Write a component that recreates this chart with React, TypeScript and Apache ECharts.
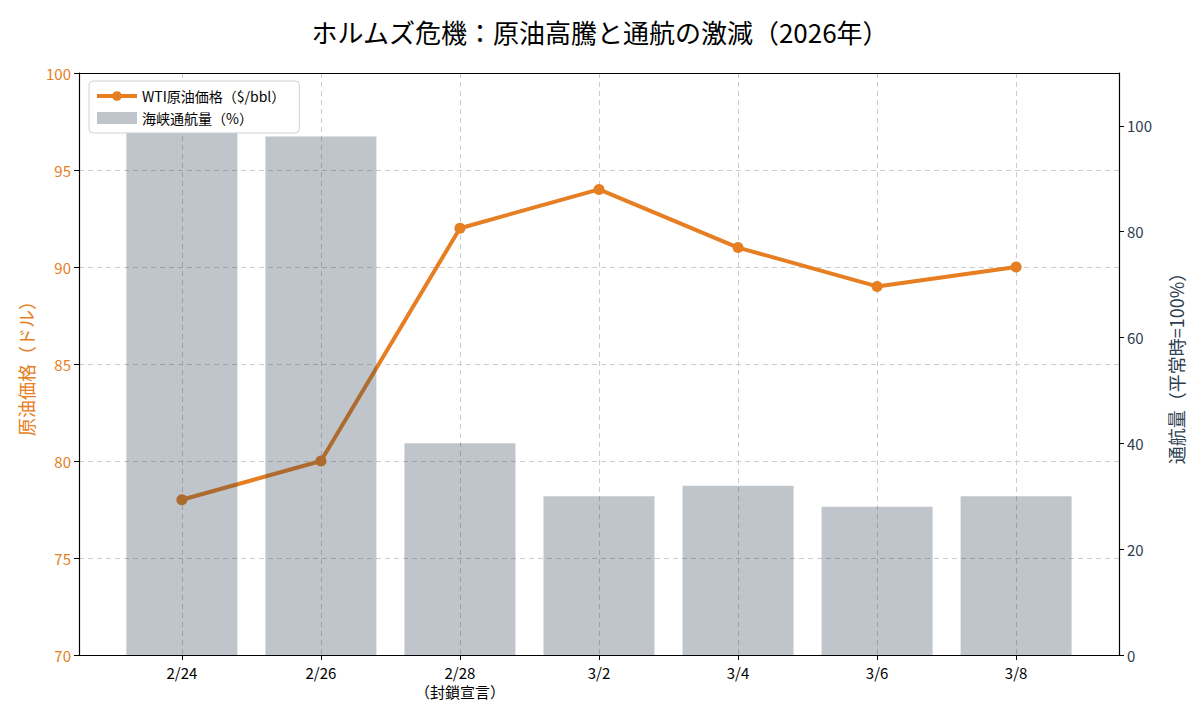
import React, { useEffect, useRef } from "react";
import * as echarts from "echarts";

const categories = ["2/24", "2/26", "2/28\n（封鎖宣言）", "3/2", "3/4", "3/6", "3/8"];
const oilPrice = [78, 80, 92, 94, 91, 89, 90];
const traffic = [100, 98, 40, 30, 32, 28, 30];
const rightTicks = [0, 20, 40, 60, 80, 100];

const FONT = "'Noto Sans CJK JP', 'Noto Sans', sans-serif";
const ORANGE = "#e67e22";
const SLATE = "#2c3e50";

export default function App() {
  const ref = useRef<HTMLDivElement>(null);
  useEffect(() => {
    document.body.style.margin = "0";
    if (!ref.current) return;
    const chart = echarts.init(ref.current, undefined, { renderer: "svg" });
    const idx = categories.map((_, i) => i);
    chart.setOption({
      animation: false,
      backgroundColor: "#fff",
      textStyle: { fontFamily: FONT },
      title: {
        text: "ホルムズ危機：原油高騰と通航の激減（2026年）",
        left: "center",
        top: 13,
        textStyle: { fontFamily: FONT, fontSize: 26, fontWeight: "normal", color: "#000" },
      },
      legend: {
        orient: "vertical",
        left: 89,
        top: 81,
        padding: [8, 14, 8, 6],
        itemGap: 8,
        backgroundColor: "#fff",
        borderColor: "#d0d0d0",
        borderWidth: 1,
        borderRadius: 4,
        itemWidth: 40,
        itemHeight: 12,
        textStyle: { fontFamily: FONT, fontSize: 14, color: "#000" },
        data: [
          { name: "WTI原油価格（$/bbl）", lineStyle: { width: 4 } },
          { name: "海峡通航量（%）", icon: "rect" },
        ],
      },
      grid: { left: 79, right: 81, top: 73, bottom: 65 },
      xAxis: [
        {
          type: "value",
          min: -0.74,
          max: 6.74,
          axisLine: { show: true, onZero: false, lineStyle: { color: "#000", width: 1.2 } },
          axisTick: { show: true, length: 5, customValues: idx, lineStyle: { color: "#000" } },
          axisLabel: {
            customValues: idx,
            formatter: (v: number) => categories[Math.round(v)] ?? "",
            color: "#000",
            fontSize: 15,
            fontFamily: FONT,
            margin: 8,
            lineHeight: 19,
          },
          splitLine: { show: true, lineStyle: { color: "#cccccc", type: [5, 4], width: 1 } },
        },
        {
          type: "value",
          position: "top",
          min: -0.74,
          max: 6.74,
          axisLine: { show: true, onZero: false, lineStyle: { color: "#000", width: 1.2 } },
          axisTick: { show: false },
          axisLabel: { show: false },
          splitLine: { show: false },
        },
      ],
      yAxis: [
        {
          type: "value",
          min: 70,
          max: 100,
          interval: 5,
          name: "原油価格（ドル）",
          nameLocation: "middle",
          nameRotate: 90,
          nameGap: 44,
          nameTextStyle: { color: ORANGE, fontSize: 18, fontFamily: FONT },
          axisLine: { show: true, onZero: false, lineStyle: { color: "#000", width: 1.2 } },
          axisTick: { show: true, length: 5, lineStyle: { color: "#000" } },
          axisLabel: { color: ORANGE, fontSize: 15, fontFamily: FONT, margin: 8 },
          splitLine: { show: true, lineStyle: { color: "#cccccc", type: [5, 4], width: 1 } },
        },
        {
          type: "value",
          min: 0,
          max: 110,
          position: "right",
          name: "通航量（平常時=100%）",
          nameLocation: "middle",
          nameRotate: 90,
          nameGap: 48,
          nameTextStyle: { color: SLATE, fontSize: 18, fontFamily: FONT },
          axisLine: { show: true, onZero: false, lineStyle: { color: "#000", width: 1.2 } },
          axisTick: { show: true, length: 5, customValues: rightTicks, lineStyle: { color: "#000" } },
          axisLabel: { customValues: rightTicks, color: SLATE, fontSize: 15, fontFamily: FONT, margin: 8 },
          splitLine: { show: false },
        },
      ],
      series: [
        {
          name: "WTI原油価格（$/bbl）",
          type: "line",
          xAxisIndex: 0,
          yAxisIndex: 0,
          z: 2,
          data: oilPrice.map((v, i) => [i, v]),
          symbol: "circle",
          symbolSize: 11,
          lineStyle: { color: ORANGE, width: 4 },
          itemStyle: { color: ORANGE },
        },
        {
          name: "海峡通航量（%）",
          type: "bar",
          xAxisIndex: 0,
          yAxisIndex: 1,
          z: 3,
          barWidth: 111,
          data: traffic.map((v, i) => [i, v]),
          itemStyle: { color: "rgba(44,62,80,0.3)" },
        },
      ],
    });
    return () => chart.dispose();
  }, []);
  return <div ref={ref} style={{ width: 1200, height: 720 }} />;
}
